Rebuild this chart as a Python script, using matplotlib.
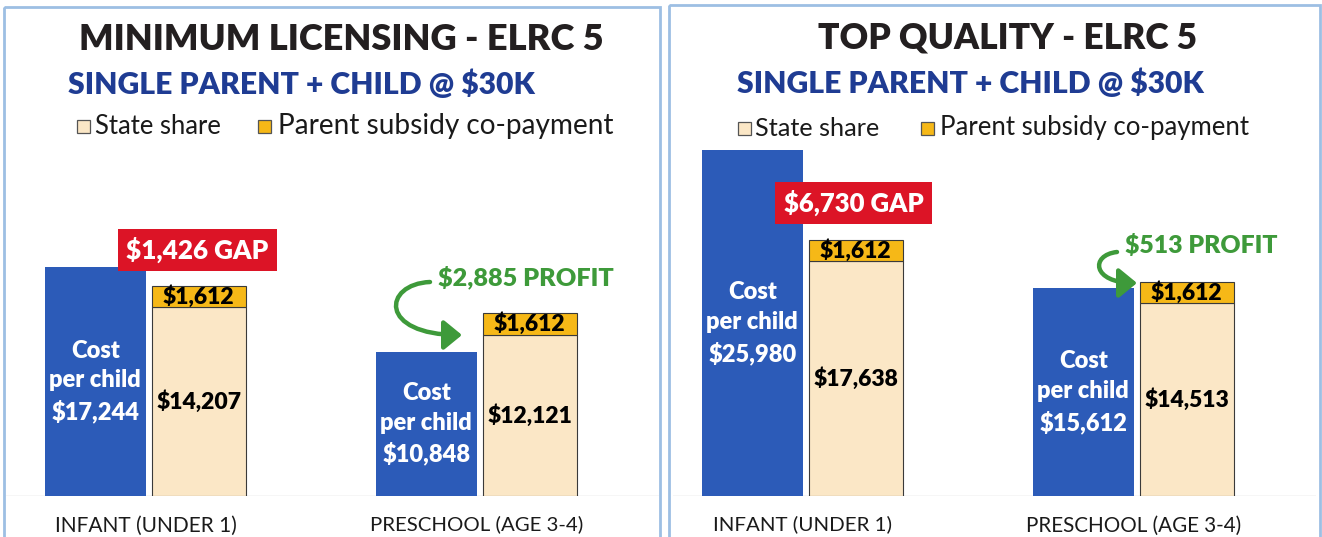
import matplotlib
matplotlib.use('Agg')
import matplotlib.pyplot as plt
from matplotlib.patches import Rectangle, FancyArrowPatch
from matplotlib.path import Path
import matplotlib.transforms as mtransforms
import numpy as np

W, H = 1322, 537
plt.rcParams['font.family'] = ['Lato', 'DejaVu Sans']

# ---------------- data ----------------
categories = ['INFANT (UNDER 1)', 'PRESCHOOL (AGE 3-4)']
panel_titles = ['MINIMUM LICENSING - ELRC 5', 'TOP QUALITY - ELRC 5']
subtitles = ['SINGLE PARENT + CHILD @ $30K', 'SINGLE PARENT + CHILD @ $30K']
series_names = ['State share', 'Parent subsidy co-payment']

cost_min = [17244, 10848]
state_min = [14207, 12121]
copay_min = [1612, 1612]

cost_top = [25980, 15612]
state_top = [17638, 14513]
copay_top = [1612, 1612]

gap_min = '$1,426 GAP'
profit_min = '$2,885 PROFIT'
gap_top = '$6,730 GAP'
profit_top = '$513 PROFIT'

# ---------------- styles ----------------
BLUE = '#2C5BB8'
BEIGE = '#FBE7C6'
ORANGE = '#F6B817'
EDGE = '#3A3A3A'
RED = '#DC1426'
GREEN = '#3E9A3A'
TITLE = '#231F20'
SUB = '#1F3C93'
BORDER = '#9DBFE3'

fig = plt.figure(figsize=(W / 100, H / 100), dpi=100)
px = mtransforms.Affine2D().scale(1 / W, -1 / H).translate(0, 1) + fig.transFigure
renderer = fig.canvas.get_renderer()


def fit(t, width_px):
    bb = t.get_window_extent(renderer)
    t.set_fontsize(t.get_fontsize() * width_px / bb.width)
    return t


# panel borders
for (x0, y0, x1) in [(4, 7, 660), (669, 5, 1320)]:
    fig.patches.append(Rectangle((x0, y0), x1 - x0, 600, transform=px, fill=False,
                                 edgecolor=BORDER, lw=2.0, zorder=0))

UNIT = 331.0
SCALE = 0.0133  # px per dollar
BASE = 496.0
ymax = (BASE - 139.6) / SCALE

panels = [
    dict(cost=cost_min, state=state_min, copay=copay_min, gap=gap_min, profit=profit_min,
         title=panel_titles[0], sub=subtitles[0], gc=145.5, xl=(-0.42, 1.55),
         title_xy=(341.5, 40, 527), sub_xy=(301.5, 84, 467),
         leg=(77, 95, 222, 258, 278, 615, 126),
         gapbox=(0.157, 18496), profit_xy=(1.148, 16466, 177),
         arrow=[(430, 282), (383, 284), (378, 335), (462, 335)],
         gapw=142, tickw=[181, 213]),
    dict(cost=cost_top, state=state_top, copay=copay_top, gap=gap_top, profit=profit_top,
         title=panel_titles[1], sub=subtitles[1], gc=802.5, xl=(-0.39, 1.55),
         title_xy=(1008, 38, 380), sub_xy=(970, 83, 466),
         leg=(738, 755, 880, 921, 940, 1250, 128),
         gapbox=(0.154, 22030), profit_xy=(1.205, 18872, 153),
         arrow=[(1117, 252), (1090, 255), (1092, 283), (1137, 283)],
         gapw=140, tickw=[178, 215]),
]

for p in panels:
    x0 = p['gc'] + p['xl'][0] * UNIT
    x1 = p['gc'] + p['xl'][1] * UNIT
    ax = fig.add_axes([x0 / W, (H - BASE) / H, (x1 - x0) / W, (BASE - 139.6) / H])
    ax.set_xlim(*p['xl'])
    ax.set_ylim(0, ymax)
    ax.patch.set_alpha(0)
    for s in ax.spines.values():
        s.set_visible(False)
    ax.set_yticks([])
    x = np.arange(len(categories))
    xb = x - 0.152
    xs = x + 0.161
    ax.axhline(0, color='#D6D6D6', lw=1.0, zorder=1)
    ax.bar(xb, p['cost'], width=0.305, color=BLUE, zorder=2)
    b_state = ax.bar(xs, p['state'], width=0.284, color=BEIGE, edgecolor=EDGE, lw=0.8, zorder=2)
    b_copay = ax.bar(xs, p['copay'], bottom=p['state'], width=0.284, color=ORANGE,
                     edgecolor=EDGE, lw=0.8, zorder=2)
    ax.set_xticks(x)
    ax.set_xticklabels(categories, fontsize=13, color='#1A1A1A')
    ax.tick_params(axis='x', length=0, pad=14)
    for i in range(len(categories)):
        ax.text(xb[i], p['cost'][i] / 2, f"Cost\nper child\n${p['cost'][i]:,}", color='white',
                fontsize=17, fontweight='heavy', ha='center', va='center', linespacing=1.42, zorder=3)
        ax.text(xs[i], p['state'][i] / 2, f"${p['state'][i]:,}", color='black',
                fontsize=16.5, fontweight='heavy', ha='center', va='center', zorder=3)
        ax.text(xs[i], p['state'][i] + p['copay'][i] / 2, f"${p['copay'][i]:,}", color='black',
                fontsize=16.5, fontweight='heavy', ha='center', va='center', zorder=3)
    # gap box
    gt = ax.text(p['gapbox'][0], p['gapbox'][1], p['gap'], color='white', fontsize=20,
                 fontweight='heavy', ha='center', va='center', zorder=4,
                 bbox=dict(boxstyle='square,pad=0.32', facecolor=RED, edgecolor='none'))
    # profit text
    pt = ax.text(p['profit_xy'][0], p['profit_xy'][1], p['profit'], color=GREEN, fontsize=16,
                 fontweight='heavy', ha='center', va='center', zorder=4)
    fig.canvas.draw()
    fit(pt, p['profit_xy'][2])
    fit(gt, p['gapw'])
    for lab, w in zip(ax.get_xticklabels(), p['tickw']):
        fit(lab, w)
    # arrow
    verts = p['arrow']
    path = Path(verts, [Path.MOVETO, Path.CURVE4, Path.CURVE4, Path.CURVE4])
    arr = FancyArrowPatch(path=path, transform=px, arrowstyle='-|>,head_length=0.55,head_width=0.45',
                          mutation_scale=20, color=GREEN, lw=3.2, zorder=5)
    fig.patches.append(arr)
    # titles
    tx, ty, tw = p['title_xy']
    t = fig.text(tx, ty, p['title'], transform=px, ha='center', va='center', fontsize=27,
                 fontweight='heavy', color=TITLE)
    fit(t, tw)
    sx, sy, sw = p['sub_xy']
    s = fig.text(sx, sy, p['sub'], transform=px, ha='center', va='center', fontsize=20,
                 fontweight='heavy', color=SUB)
    fit(s, sw)
    # legend (manual placement from the bar containers' styles)
    q1, t1a, t1b, q2, t2a, t2b, ly = p['leg']
    for qx, tx0, tx1, cont, name in [(q1, t1a, t1b, b_state, series_names[0]),
                                     (q2, t2a, t2b, b_copay, series_names[1])]:
        patch = cont.patches[0]
        fig.patches.append(Rectangle((qx, ly - 6.5), 13, 13, transform=px,
                                     facecolor=patch.get_facecolor(), edgecolor='#555555', lw=0.9))
        lt = fig.text(tx0, ly, name, transform=px, ha='left', va='center', fontsize=16, color='#1A1A1A')
        fit(lt, tx1 - tx0)

fig.savefig('out.png', dpi=100)
